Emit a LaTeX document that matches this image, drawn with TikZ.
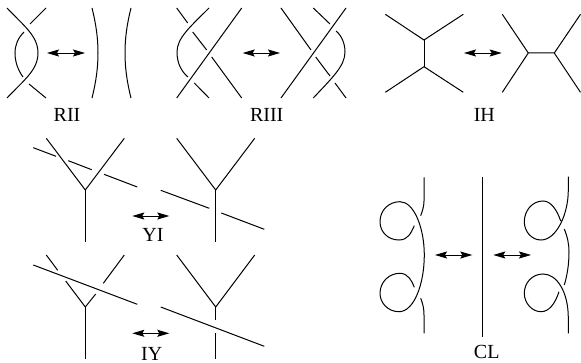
\documentclass[tikz,border=0pt]{standalone}
\usepackage{fontspec}
\setmainfont{Liberation Serif}
\usetikzlibrary{arrows.meta}
\tikzset{
  strand/.style={line width=1pt,line cap=butt,line join=miter},
  swap/.style={line width=0.9pt,{Stealth[length=12pt,width=7pt,inset=2pt]}-{Stealth[length=12pt,width=7pt,inset=2pt]}},
  lab/.style={anchor=base,inner sep=0pt,font=\fontsize{20}{20}\selectfont}
}
\begin{document}
\begin{tikzpicture}[x=1pt,y=-1pt]
\useasboundingbox (0,0) rectangle (581,363);
% RII
\draw[strand] (7,8) .. controls (24,26) and (38,36) .. (38,53) .. controls (38,70) and (24,80) .. (7,98);
\draw[strand] (46,8) -- (30,24);
\draw[strand] (24,32) .. controls (18,38) and (15,45) .. (15,53) .. controls (15,62) and (18,70) .. (23,77);
\draw[strand] (29,84) -- (46,98);
\draw[swap] (47,53) -- (85,53);
\draw[strand] (92,8) .. controls (96,24) and (98,38) .. (98,53) .. controls (98,68) and (96,82) .. (92,98);
\draw[strand] (131,8) .. controls (127,24) and (125,38) .. (125,53) .. controls (125,68) and (127,82) .. (131,98);
\node[lab] (rii) at (67,122) {RII};
% RIII left
\draw[strand] (176.7,8) -- (187.7,23);
\draw[strand] (209,8) .. controls (190,27) and (177,38) .. (177,52) .. controls (177,64) and (182,72) .. (188,77);
\draw[strand] (241.7,8) -- (176.7,98);
\draw[strand] (192.7,32) -- (206.7,50);
\draw[strand] (211.7,57) -- (241.7,98);
\draw[strand] (194.3,83) -- (209,98);
\draw[swap] (242.7,53) -- (280,53);
% RIII right
\draw[strand] (281,8) -- (311,50);
\draw[strand] (313.3,8) -- (330,24);
\draw[strand] (346,8) -- (281,98);
\draw[strand] (336,31) .. controls (342,36) and (345,44) .. (345,52) .. controls (345,66) and (332,78) .. (313.3,98);
\draw[strand] (315.7,57) -- (330,76);
\draw[strand] (335,83) -- (346,98);
\node[lab] (riii) at (266.7,122) {RIII};
% IH
\draw[strand] (385.3,14.3) -- (424,40) -- (463.3,14.3);
\draw[strand] (424,40) -- (424,66.7);
\draw[strand] (385.3,92.3) -- (424,66.7) -- (463.3,92.3);
\draw[swap] (464,53) -- (501.7,53);
\draw[strand] (502.3,14.3) -- (528.3,53) -- (554.3,53) -- (580.5,14.3);
\draw[strand] (502.3,92.3) -- (528.3,53);
\draw[strand] (554.3,53) -- (580.5,92.3);
\node[lab] (ih) at (484.3,122) {IH};
% YI
\draw[strand] (33.3,147.7) -- (56,156.3);
\draw[strand] (68.3,160.7) -- (91.7,169.7);
\draw[strand] (104,174.3) -- (137.3,187);
\draw[strand] (46.3,138.3) -- (85.3,190) -- (124.3,138.3);
\draw[strand] (85.3,190) -- (85.3,241.7);
\draw[swap] (132.3,216) -- (169.3,216);
\draw[strand] (176.7,138.3) -- (215.7,190) -- (254.7,138.3);
\draw[strand] (215.7,190) -- (215.7,241.7);
\draw[strand] (160.7,190.3) -- (209.3,208.3);
\draw[strand] (221.3,213) -- (264.3,229.3);
\node[lab] (yi) at (153,241.7) {YI};
% IY
\draw[strand] (33.3,265) -- (137.3,304.3);
\draw[strand] (46.3,255) -- (57.7,270.3);
\draw[strand] (124.3,255) -- (103.3,283.3);
\draw[strand] (65.7,281) -- (85.3,307) -- (95.7,294);
\draw[strand] (85.3,307) -- (85.3,359.3);
\draw[swap] (132.3,333.3) -- (169.3,333.3);
\draw[strand] (176.7,255) -- (215.7,307) -- (254.7,255);
\draw[strand] (215.7,307) -- (215.7,320);
\draw[strand] (215.7,333.3) -- (215.7,359.3);
\draw[strand] (160.7,307) -- (264.3,346.3);
\node[lab] (iy) at (151.7,360) {IY};
% CL left
\draw[strand] (424,177.3) -- (424,201) .. controls (424,207) and (422,212) .. (420.7,215.7);
\draw[strand] (414.3,225.7) .. controls (411,233) and (408,240) .. (399,240)
  .. controls (388,240) and (380,232) .. (380,221.7)
  .. controls (380,210) and (389,201.7) .. (400,201.7)
  .. controls (414,201.7) and (424.3,228) .. (424.3,255)
  .. controls (424.3,284) and (414,311.7) .. (399,311.7)
  .. controls (388,311.7) and (380,303) .. (380,293.3)
  .. controls (380,282) and (389,273.3) .. (400,273.3)
  .. controls (408,273.3) and (412,281) .. (414.3,287.3);
\draw[strand] (420.7,298.3) .. controls (423,304) and (424,309) .. (424,315) -- (424,333.3);
\draw[swap] (435,255) -- (472.3,255);
\draw[strand] (482.7,177.3) -- (482.7,336.7);
\draw[swap] (493.3,255) -- (531,255);
% CL right
\draw[strand] (560.7,221) .. controls (557,210) and (551,201) .. (543,201)
  .. controls (532,201) and (524.3,211) .. (524.3,221.7)
  .. controls (524.3,232) and (532,240) .. (541,240)
  .. controls (556,240) and (568.3,215) .. (568.3,190) -- (568.3,176.7);
\draw[strand] (564.3,229) .. controls (567.5,237) and (569,244) .. (569,252) .. controls (569,265) and (567,276) .. (564.3,285);
\draw[strand] (559,291.7) .. controls (555,304) and (549,311.7) .. (541,311.7)
  .. controls (532,311.7) and (524.3,303) .. (524.3,293.3)
  .. controls (524.3,283) and (532,274) .. (543,274)
  .. controls (557,274) and (568.3,292) .. (568.3,318) -- (568.3,333.3);
\node[lab] (cl) at (486.7,359) {CL};
\end{tikzpicture}
\end{document}
